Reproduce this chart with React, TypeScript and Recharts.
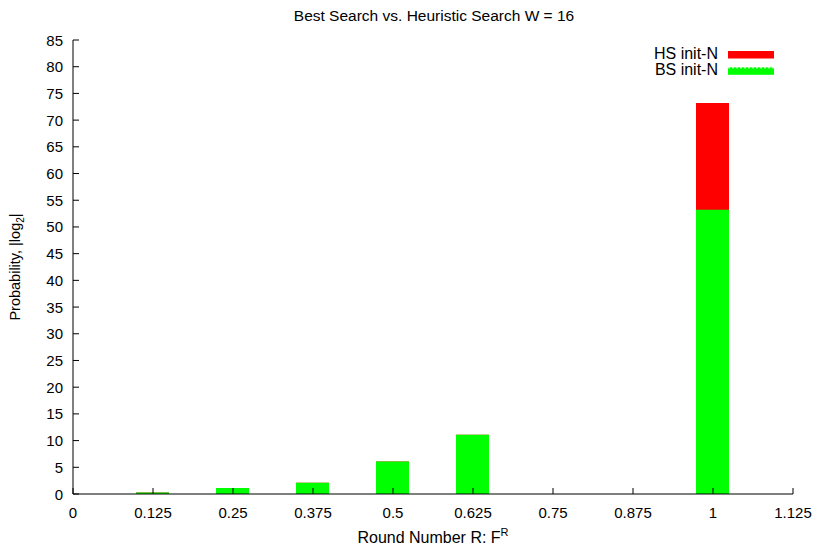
import React from "react";
import { ComposedChart, Bar, XAxis, YAxis, Legend } from "recharts";

const categories = [0.125, 0.25, 0.375, 0.5, 0.625, 1];
const hsValues = [0.3, 1.1, 2.1, 6.1, 11.1, 73.2];
const bsValues = [0.3, 1.1, 2.1, 6.1, 11.1, 53.2];
const xTicks = [0, 0.125, 0.25, 0.375, 0.5, 0.625, 0.75, 0.875, 1, 1.125];
const xTickLabels = ["0", "0.125", "0.25", "0.375", "0.5", "0.625", "0.75", "0.875", "1", "1.125"];
const yTicks = [0, 5, 10, 15, 20, 25, 30, 35, 40, 45, 50, 55, 60, 65, 70, 75, 80, 85];
const seriesNames = ["HS init-N", "BS init-N"];
const seriesColors = ["#ff0000", "#00ff00"];

const data = categories.map((x, i) => ({ x, hs: hsValues[i], bs: bsValues[i] }));

const FONT = "'Liberation Sans', Arial, Helvetica, sans-serif";
const TICK_FS = 15;

const labelFor = (v: number) => {
  const i = xTicks.indexOf(v);
  return i >= 0 ? xTickLabels[i] : String(v);
};

const BottomTick = (props: any) => {
  const { x, y, payload } = props;
  return (
    <g>
      <line x1={x} y1={y} x2={x} y2={y - 6} stroke="#000" />
      <text x={x} y={y + 24} textAnchor="middle" fontSize={TICK_FS} fontFamily={FONT} fill="#000">
        {labelFor(payload.value)}
      </text>
    </g>
  );
};
const TopTick = (props: any) => {
  const { x, y } = props;
  return <line x1={x} y1={y} x2={x} y2={y + 6} stroke="#000" />;
};
const LeftTick = (props: any) => {
  const { x, y, payload } = props;
  return (
    <g>
      <line x1={x} y1={y} x2={x + 6} y2={y} stroke="#000" />
      <text x={x - 10} y={y + 5.5} textAnchor="end" fontSize={TICK_FS} fontFamily={FONT} fill="#000">
        {payload.value}
      </text>
    </g>
  );
};
const RightTick = (props: any) => {
  const { x, y } = props;
  return <line x1={x} y1={y} x2={x - 6} y2={y} stroke="#000" />;
};

const LegendContent = () => (
  <svg width={816} height={90} style={{ display: "block" }}>
    {seriesNames.map((n, i) => (
      <g key={n}>
        <text x={718} y={58.5 + i * 16.5} textAnchor="end" fontSize={16} fontFamily={FONT} fill="#000">
          {n}
        </text>
        <rect x={728} y={51 + i * 16.3} width={46} height={7.5} fill={seriesColors[i]} />
        {i === 1 ? (
          <line x1={728} y1={67.8} x2={774} y2={67.8} stroke="#fff" strokeDasharray="2 2" strokeWidth={1} />
        ) : null}
      </g>
    ))}
  </svg>
);

export default function App() {
  return (
    <div style={{ position: "absolute", left: 0, top: 0, width: 816, height: 545, background: "#fff" }}>
      <svg width={816} height={30} style={{ position: "absolute", left: 0, top: 0 }}>
        <text x={434} y={21} textAnchor="middle" fontSize={15.5} fontFamily={FONT} fill="#000">
          Best Search vs. Heuristic Search W = 16
        </text>
      </svg>
      <ComposedChart
        width={816}
        height={545}
        data={data}
        margin={{ top: 40, right: 23, bottom: 0, left: 0 }}
        barGap={-33}
        style={{ position: "absolute", left: 0, top: 0 }}
      >
        <XAxis
          xAxisId="b"
          dataKey="x"
          type="number"
          domain={[0, 1.125]}
          ticks={xTicks}
          interval={0}
          allowDataOverflow
          height={51}
          tickSize={0}
          tickMargin={0}
          tickLine={false}
          axisLine={{ stroke: "#000" }}
          tick={<BottomTick />}
          label={{
            content: (p: any) => {
              const vb = p.viewBox || { x: 73, width: 720, y: 494 };
              return (
                <text x={vb.x + vb.width / 2} y={543} textAnchor="middle" fontSize={16} fontFamily={FONT} fill="#000">
                  Round Number R: F
                  <tspan dy={-7} fontSize={11}>R</tspan>
                </text>
              );
            },
          }}
        />
        <XAxis
          xAxisId="t"
          orientation="top"
          type="number"
          domain={[0, 1.125]}
          ticks={xTicks}
          interval={0}
          allowDataOverflow
          height={0}
          tickSize={0}
          tickMargin={0}
          tickLine={false}
          axisLine={{ stroke: "#000" }}
          tick={<TopTick />}
        />
        <YAxis
          yAxisId="l"
          type="number"
          domain={[0, 85]}
          ticks={yTicks}
          interval={0}
          allowDataOverflow
          width={73}
          tickSize={0}
          tickMargin={0}
          tickLine={false}
          axisLine={{ stroke: "#000" }}
          tick={<LeftTick />}
          label={{
            content: (p: any) => {
              const vb = p.viewBox || { y: 40, height: 454 };
              const cy = vb.y + vb.height / 2;
              return (
                <text
                  x={20}
                  y={cy}
                  transform={`rotate(-90, 20, ${cy})`}
                  textAnchor="middle"
                  fontSize={14.5}
                  fontFamily={FONT}
                  fill="#000"
                >
                  Probability, |log
                  <tspan dy={4} fontSize={10}>2</tspan>
                  <tspan dy={-4}>|</tspan>
                </text>
              );
            },
          }}
        />
        <YAxis
          yAxisId="r"
          orientation="right"
          type="number"
          domain={[0, 85]}
          ticks={yTicks}
          interval={0}
          allowDataOverflow
          width={0}
          tickSize={0}
          tickMargin={0}
          tickLine={false}
          axisLine={{ stroke: "#000" }}
          tick={<RightTick />}
        />
        <Legend
          layout="horizontal"
          verticalAlign="middle"
          content={<LegendContent />}
          wrapperStyle={{ position: "absolute", left: 0, top: 0, width: 816, height: 90 }}
        />
        <Bar xAxisId="b" yAxisId="l" dataKey="hs" name={seriesNames[0]} fill={seriesColors[0]} barSize={33} isAnimationActive={false} />
        <Bar xAxisId="b" yAxisId="l" dataKey="bs" name={seriesNames[1]} fill={seriesColors[1]} barSize={33} isAnimationActive={false} />
      </ComposedChart>
    </div>
  );
}
